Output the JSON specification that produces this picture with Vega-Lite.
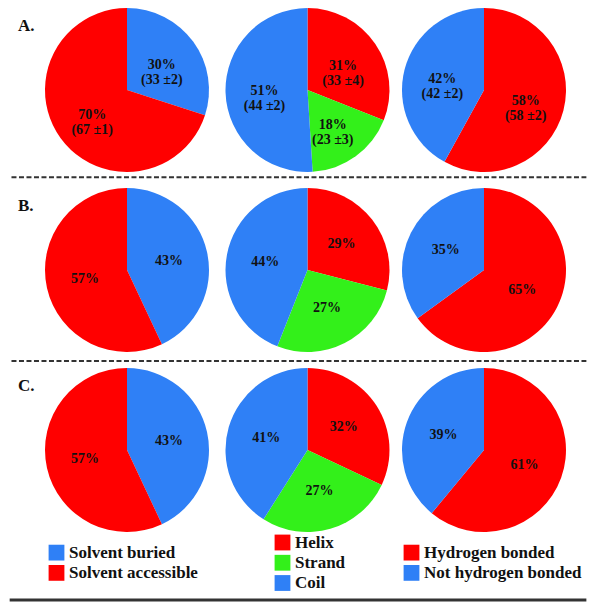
{
  "$schema": "https://vega.github.io/schema/vega-lite/v6.json",
  "width": 600,
  "height": 609,
  "padding": 0,
  "autosize": "none",
  "background": "white",
  "config": {"view": {"stroke": null}},
  "datasets": {
    "pies": [
      {"row": 1, "col": 1, "ord": 1, "category": "Solvent buried", "value": 30, "label": "30%\n(33 ±2)"},
      {"row": 1, "col": 1, "ord": 2, "category": "Solvent accessible", "value": 70, "label": "70%\n(67 ±1)"},
      {"row": 1, "col": 2, "ord": 1, "category": "Helix", "value": 31, "label": "31%\n(33 ±4)"},
      {"row": 1, "col": 2, "ord": 2, "category": "Strand", "value": 18, "label": "18%\n(23 ±3)"},
      {"row": 1, "col": 2, "ord": 3, "category": "Coil", "value": 51, "label": "51%\n(44 ±2)"},
      {"row": 1, "col": 3, "ord": 1, "category": "Hydrogen bonded", "value": 58, "label": "58%\n(58 ±2)"},
      {"row": 1, "col": 3, "ord": 2, "category": "Not hydrogen bonded", "value": 42, "label": "42%\n(42 ±2)"},
      {"row": 2, "col": 1, "ord": 1, "category": "Solvent buried", "value": 43, "label": "43%"},
      {"row": 2, "col": 1, "ord": 2, "category": "Solvent accessible", "value": 57, "label": "57%"},
      {"row": 2, "col": 2, "ord": 1, "category": "Helix", "value": 29, "label": "29%"},
      {"row": 2, "col": 2, "ord": 2, "category": "Strand", "value": 27, "label": "27%"},
      {"row": 2, "col": 2, "ord": 3, "category": "Coil", "value": 44, "label": "44%"},
      {"row": 2, "col": 3, "ord": 1, "category": "Hydrogen bonded", "value": 65, "label": "65%"},
      {"row": 2, "col": 3, "ord": 2, "category": "Not hydrogen bonded", "value": 35, "label": "35%"},
      {"row": 3, "col": 1, "ord": 1, "category": "Solvent buried", "value": 43, "label": "43%"},
      {"row": 3, "col": 1, "ord": 2, "category": "Solvent accessible", "value": 57, "label": "57%"},
      {"row": 3, "col": 2, "ord": 1, "category": "Helix", "value": 32, "label": "32%"},
      {"row": 3, "col": 2, "ord": 2, "category": "Strand", "value": 27, "label": "27%"},
      {"row": 3, "col": 2, "ord": 3, "category": "Coil", "value": 41, "label": "41%"},
      {"row": 3, "col": 3, "ord": 1, "category": "Hydrogen bonded", "value": 61, "label": "61%"},
      {"row": 3, "col": 3, "ord": 2, "category": "Not hydrogen bonded", "value": 39, "label": "39%"}
    ],
    "panels": [
      {"panel": "A.", "row": 1},
      {"panel": "B.", "row": 2},
      {"panel": "C.", "row": 3}
    ],
    "lines": [
      {"kind": "dashed", "row": 1.485},
      {"kind": "dashed", "row": 2.505},
      {"kind": "solid", "row": 3.833}
    ],
    "legend": [
      {"lcol": 1, "slot": -0.5, "category": "Solvent buried"},
      {"lcol": 1, "slot": 0.5, "category": "Solvent accessible"},
      {"lcol": 2, "slot": -1, "category": "Helix"},
      {"lcol": 2, "slot": 0, "category": "Strand"},
      {"lcol": 2, "slot": 1, "category": "Coil"},
      {"lcol": 3, "slot": -0.5, "category": "Hydrogen bonded"},
      {"lcol": 3, "slot": 0.5, "category": "Not hydrogen bonded"}
    ]
  },
  "layer": [
    {
      "layer": [
        {
          "data": {"name": "pies"},
          "transform": [
            {"stack": "value", "groupby": ["row", "col"], "sort": [{"field": "ord", "order": "ascending"}], "as": ["v0", "v1"]}
          ],
          "mark": {"type": "arc", "outerRadius": 82},
          "encoding": {
            "x": {"field": "col", "type": "quantitative", "scale": {"domain": [1, 2, 3], "range": [127, 307.5, 484], "nice": false, "zero": false}, "axis": null},
            "y": {"field": "row", "type": "quantitative", "scale": {"domain": [1, 2, 3], "range": [90, 270, 450], "nice": false, "zero": false}, "axis": null},
            "theta": {"field": "v0", "type": "quantitative", "scale": {"domain": [0, 100]}},
            "theta2": {"field": "v1"},
            "color": {
              "field": "category", "type": "nominal", "legend": null,
              "scale": {
                "domain": ["Solvent buried", "Solvent accessible", "Helix", "Strand", "Coil", "Hydrogen bonded", "Not hydrogen bonded"],
                "range": ["#2F80F6", "#FF0000", "#FF0000", "#33F01A", "#2F80F6", "#FF0000", "#2F80F6"]
              }
            }
          }
        },
        {
          "data": {"name": "pies"},
          "transform": [
            {"stack": "value", "groupby": ["row", "col"], "sort": [{"field": "ord", "order": "ascending"}], "as": ["v0", "v1"]},
            {"calculate": "(datum.v0 + datum.v1) / 2", "as": "mid"}
          ],
          "mark": {"type": "text", "radius": 43, "font": "Liberation Serif", "fontWeight": "bold", "fontSize": 14, "lineBreak": "\n", "lineHeight": 15, "align": "center", "baseline": "middle", "color": "#111111"},
          "encoding": {
            "x": {"field": "col", "type": "quantitative"},
            "y": {"field": "row", "type": "quantitative"},
            "theta": {"field": "mid", "type": "quantitative", "scale": {"domain": [0, 100]}},
            "text": {"field": "label", "type": "nominal"}
          }
        },
        {
          "data": {"name": "panels"},
          "mark": {"type": "text", "font": "Liberation Serif", "fontWeight": "bold", "fontSize": 17, "align": "left", "baseline": "middle", "dx": -109, "dy": -64, "color": "#111111"},
          "encoding": {
            "x": {"datum": 1, "type": "quantitative"},
            "y": {"field": "row", "type": "quantitative"},
            "text": {"field": "panel", "type": "nominal"}
          }
        },
        {
          "data": {"name": "lines"},
          "transform": [{"filter": "datum.kind === 'dashed'"}],
          "mark": {"type": "rule", "strokeDash": [5, 2.5], "strokeWidth": 2, "color": "#333333"},
          "encoding": {
            "x": {"datum": 0.36, "type": "quantitative"},
            "x2": {"datum": 3.58},
            "y": {"field": "row", "type": "quantitative"}
          }
        },
        {
          "data": {"name": "lines"},
          "transform": [{"filter": "datum.kind === 'solid'"}],
          "mark": {"type": "rule", "strokeWidth": 3, "color": "#333333"},
          "encoding": {
            "x": {"datum": 0.35, "type": "quantitative"},
            "x2": {"datum": 3.58},
            "y": {"field": "row", "type": "quantitative"}
          }
        }
      ]
    },
    {
      "data": {"name": "legend"},
      "layer": [
        {
          "mark": {"type": "square", "size": 250, "filled": true, "opacity": 1},
          "encoding": {
            "x": {"field": "lcol", "type": "quantitative", "scale": {"domain": [1, 2, 3], "range": [56.5, 282.5, 411.5], "nice": false, "zero": false}, "axis": null},
            "y": {"field": "slot", "type": "quantitative", "scale": {"domain": [-1, 1], "range": [542.5, 583], "nice": false, "zero": false}, "axis": null},
            "color": {"field": "category", "type": "nominal", "legend": null}
          }
        },
        {
          "mark": {"type": "text", "font": "Liberation Serif", "fontWeight": "bold", "fontSize": 17, "align": "left", "baseline": "middle", "dx": 12.5, "dy": 0, "color": "#111111"},
          "encoding": {
            "x": {"field": "lcol", "type": "quantitative"},
            "y": {"field": "slot", "type": "quantitative"},
            "text": {"field": "category", "type": "nominal"}
          }
        }
      ]
    }
  ],
  "resolve": {"scale": {"x": "independent", "y": "independent"}}
}
